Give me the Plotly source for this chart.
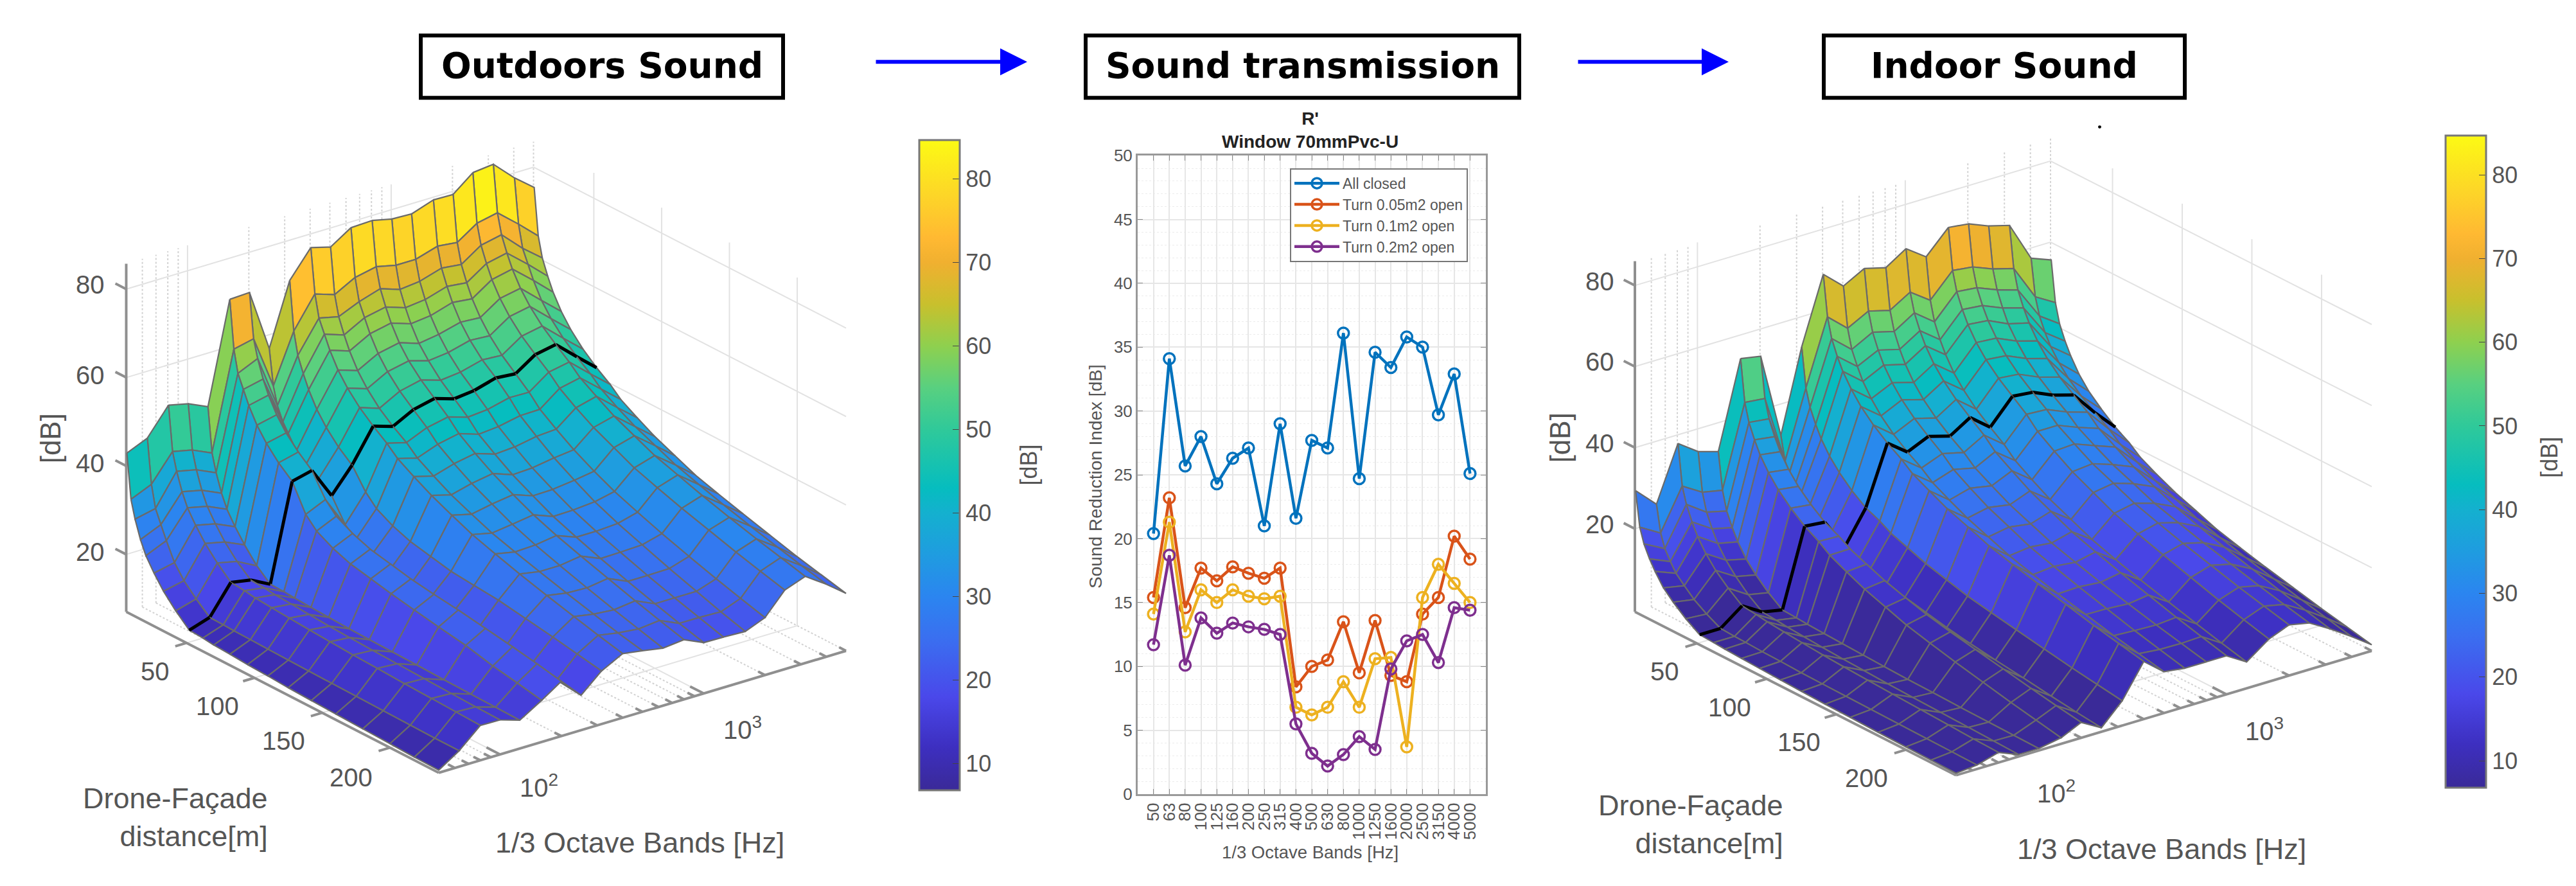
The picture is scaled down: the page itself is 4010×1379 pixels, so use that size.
"""Outdoor sound, window transmission and indoor sound, side by side.

The two level maps are drawn as shaded cells on a full-page 2D axis (an
orthographic view worked out below) rather than as WebGL scenes.
"""

import numpy as np
import plotly.graph_objects as go
from plotly.colors import sample_colorscale

W, H = 4010, 1379

BANDS = [50, 63, 80, 100, 125, 160, 200, 250, 315, 400, 500, 630, 800, 1000,
         1250, 1600, 2000, 2500, 3150, 4000, 5000]
MINOR_FREQS = [60, 70, 80, 90, 200, 300, 400, 500, 600, 700, 800, 900, 2000, 3000, 4000, 5000]
MAJOR_FREQS = [100, 1000]
DIST_TICKS = [50, 100, 150, 200]
DB_TICKS = [20, 40, 60, 80]
DISTANCES = [6, 9, 12, 16, 20, 26, 33, 42, 52, 62, 70, 82, 95, 110, 125, 142, 160, 180, 200, 218, 236]
BLACK_ROW = 8

OUTDOOR_DB = [
    [43, 45, 51, 50, 48, 70.8, 71, 57, 71, 77, 75.8, 78.8, 79, 78, 77.8, 79.5, 79.4, 83, 83.5, 79, 75.5],
    [33, 35, 41, 40, 38, 60, 61, 49, 60, 67, 65.5, 68, 69, 68, 68, 69.5, 69, 72, 73, 69, 65],
    [29, 30, 37, 36, 34, 55, 57, 45, 55, 62, 61, 63, 64.5, 63, 63.5, 65, 64.5, 67.5, 68.5, 64, 60.5],
    [25, 27, 33, 32, 30, 52, 53, 42, 51.5, 59, 57.5, 60, 61, 59.5, 60, 61.5, 61, 64, 65, 61, 57],
    [22, 24, 30, 29, 27, 49, 50, 40, 48.5, 56, 54.5, 57, 58, 56.5, 57, 58.5, 58, 61, 62, 58, 54],
    [19, 20, 27, 26, 24, 45.5, 46.5, 37, 45, 52.5, 51, 53.5, 54.5, 53, 53.7, 55, 54.7, 57.7, 58.6, 54.4, 50.6],
    [16, 17, 24, 23, 21, 42.5, 43.5, 35, 42, 49.5, 48, 50.5, 51.5, 50.2, 50.7, 52, 51.7, 54.7, 55.6, 51.4, 47.6],
    [13, 14.3, 21, 20, 17.7, 39.5, 40.6, 33, 39, 46.5, 45, 47.5, 48.6, 47.2, 47.7, 49, 48.7, 51.7, 52.6, 48.4, 44.6],
    [10.2, 11.7, 18.2, 17.4, 15.1, 36.9, 38, 31, 36.5, 43.9, 42.5, 44.9, 46, 44.6, 45.1, 46.5, 46.1, 49.1, 50, 45.8, 42],
    [10, 11.6, 17.9, 17.2, 15, 31, 33, 26, 32, 41.6, 40.4, 42.4, 43.4, 42, 42.4, 43.6, 43.5, 46.7, 47.6, 43.5, 39.8],
    [9.7, 11.5, 17.5, 16.9, 14.8, 28.5, 30.5, 24, 29.5, 39.4, 38.2, 39.9, 40.9, 39.4, 39.8, 40.8, 40.9, 44.3, 45.3, 41.3, 37.6],
    [9.5, 11.4, 17.2, 16.7, 14.6, 26.5, 28.5, 22.5, 27.5, 37.2, 36, 37.4, 38.3, 36.8, 37.1, 38, 38.3, 41.8, 43, 39, 35.4],
    [9.2, 11.3, 16.9, 16.4, 14.4, 25, 27, 21, 26, 35, 33.8, 35, 35.8, 34.2, 34.4, 35.2, 35.7, 39.4, 40.6, 36.8, 33.2],
    [9, 11.2, 16.6, 16.1, 14.2, 24, 26, 20, 25, 32.9, 31.8, 32.7, 33.4, 31.8, 31.9, 32.5, 33.2, 37.2, 38.5, 34.8, 31.2],
    [8.7, 11.1, 16.3, 15.9, 14.1, 23, 25, 19.5, 24, 30.9, 29.9, 30.5, 31.2, 29.5, 29.6, 30, 31, 35, 36.4, 32.8, 29.2],
    [8.5, 11, 16, 15.7, 14, 22, 24.2, 19, 23.5, 29.2, 28.3, 28.5, 29.2, 27.5, 27.5, 27.8, 29, 33.2, 34.7, 31.1, 27.6],
    [8.3, 10.9, 15.8, 15.5, 13.9, 21, 23.5, 18, 23, 27.5, 26.7, 26.7, 27.4, 25.5, 25.6, 25.8, 27, 31.4, 32.9, 29.4, 26],
    [8.1, 10.8, 15.5, 15.3, 13.7, 20, 22.5, 17, 22, 25.8, 25, 24.8, 25.5, 23.5, 23.5, 23.6, 25, 29.6, 31.1, 27.7, 24.3],
    [7.9, 10.7, 15.3, 15.1, 13.6, 18.5, 21.5, 16.5, 21, 24.2, 23.4, 23, 23.6, 21.6, 21.6, 21.6, 23.1, 27.8, 29.4, 26.1, 22.6],
    [7.7, 10.6, 15.1, 14.9, 13.5, 17.5, 20.5, 15.5, 20, 22.8, 22, 21.5, 22, 20, 20, 19.8, 21.5, 26.3, 28, 24.7, 21.3],
    [7.6, 10.6, 14.9, 14.8, 13.4, 16.4, 19.4, 14.9, 19, 21.5, 20.8, 20, 20.5, 18.5, 18.4, 18.2, 20, 24.9, 26.6, 23.4, 20],
]

INDOOR_DB = [
    [29.5, 24.6, 38, 34.5, 33, 54.3, 53.4, 32.4, 52.7, 69, 64.6, 67.4, 66, 69.2, 65.7, 71.3, 70.7, 68.7, 67.3, 57.6, 55.7],
    [21, 18, 28, 25, 24, 44, 43.5, 26.5, 43, 59, 54.7, 57.4, 56, 59, 55.5, 61.2, 60.6, 58.6, 57.2, 48.6, 45.7],
    [17.4, 14.7, 24, 20.6, 19.4, 39.6, 39, 24, 38.8, 54.2, 50, 52.7, 51.3, 54.4, 50.7, 56.5, 56, 54, 52.4, 44.4, 41],
    [14.4, 12.2, 20.4, 17.2, 16, 36, 35.3, 21.7, 35.3, 50.5, 46.5, 49, 47.6, 50.7, 47, 52.8, 52.3, 50.2, 48.7, 41, 37.4],
    [12, 10, 17.5, 14.3, 13.2, 33, 32.3, 20, 32.4, 47.5, 43.5, 46, 44.6, 47.7, 44, 49.8, 49.3, 47, 45.7, 38.3, 34.5],
    [9, 8, 14.3, 11.2, 10, 29.7, 29, 18, 29.2, 44.2, 40.3, 42.7, 41.2, 44.3, 40.5, 46.4, 46, 43.8, 42.3, 35.3, 31],
    [6.7, 5.8, 11.4, 8.4, 7.3, 26.7, 26, 16.3, 26.4, 41.1, 37.3, 39.7, 38.2, 41.3, 37.5, 43.4, 42.9, 40.7, 39.2, 32.6, 28],
    [4.2, 3.8, 8.6, 5.5, 4.5, 23.7, 23.1, 14.6, 23.5, 38.1, 34.3, 36.7, 35.2, 38.3, 34.4, 40.4, 39.9, 37.7, 36.2, 29.9, 25.2],
    [2, 2, 6, 3, 2, 21, 20.5, 13, 21, 35.4, 31.7, 34, 32.5, 35.6, 31.7, 37.7, 37.2, 35, 33.5, 27.5, 22.5],
    [1.8, 1.8, 5.6, 2.7, 1.8, 19, 18.8, 11.8, 19.5, 33.2, 29.5, 31.5, 30.2, 33, 29.2, 35, 34.7, 32.6, 31, 25.2, 20.4],
    [1.6, 1.7, 5.2, 2.4, 1.6, 17, 17.1, 10.5, 17.9, 31, 27.3, 29, 27.8, 30.3, 26.6, 32.2, 32.2, 30.2, 28.4, 22.9, 18.2],
    [1.4, 1.5, 4.8, 2.1, 1.4, 15, 15.4, 9.2, 16.4, 28.9, 25.1, 26.5, 25.5, 27.7, 24, 29.4, 29.7, 27.8, 25.9, 20.6, 16],
    [1.2, 1.4, 4.4, 1.8, 1.2, 13, 13.6, 8, 14.8, 26.7, 22.9, 24, 23.1, 25, 21.4, 26.6, 27.1, 25.4, 23.3, 18.3, 13.9],
    [1, 1.2, 4, 1.5, 1, 11.2, 12, 6.9, 13.4, 24.8, 20.9, 21.8, 21, 22.6, 19.1, 24.1, 24.9, 23.3, 21, 16.3, 12],
    [.8, 1.1, 3.7, 1.3, .8, 9.4, 10.5, 5.8, 12, 22.8, 18.9, 19.5, 18.9, 20.2, 16.8, 21.6, 22.6, 21.1, 18.7, 14.2, 10],
    [.6, 1, 3.4, 1, .6, 7.9, 9.2, 4.8, 10.9, 21.2, 17.2, 17.7, 17.1, 18.2, 14.8, 19.5, 20.7, 19.3, 16.8, 12.4, 8.4],
    [.5, .9, 3.1, .8, .5, 6.4, 8, 3.9, 9.8, 19.6, 15.6, 15.8, 15.3, 16.2, 12.9, 17.5, 18.8, 17.5, 14.9, 10.7, 6.8],
    [.3, .8, 2.8, .6, .3, 4.9, 6.7, 3, 8.6, 18, 14, 13.9, 13.5, 14.2, 11, 15.4, 16.9, 15.7, 13, 9, 5.2],
    [.2, .7, 2.5, .4, .2, 3.4, 5.4, 2, 7.4, 16.3, 12.3, 12, 11.8, 12.2, 9.1, 13.3, 15, 13.9, 11.1, 7.3, 3.6],
    [.1, .6, 2.2, .2, .1, 2.2, 4.3, 1.2, 6.5, 15, 11, 10.5, 10.4, 10.6, 7.5, 11.6, 13.5, 12.4, 9.5, 5.9, 2.3],
    [0, .5, 2, 0, 0, 1, 3.3, .5, 5.6, 13.7, 9.7, 9, 9, 9, 6, 10, 12, 11, 8, 4.5, 1],
]

ALL_CLOSED = [20.4, 34.1, 25.7, 28, 24.3, 26.3, 27.1, 21, 29, 21.6, 27.7, 27.1, 36.1, 24.7, 34.6, 33.4, 35.8, 35, 29.7, 32.9, 25.1]
TURN_005 = [15.4, 23.2, 14.6, 17.7, 16.7, 17.8, 17.3, 16.9, 17.7, 8.4, 10, 10.5, 13.5, 9.5, 13.6, 9.3, 8.8, 14.1, 15.4, 20.2, 18.4]
TURN_01 = [14.1, 21.3, 12.7, 16, 15, 16, 15.5, 15.3, 15.5, 6.8, 6.2, 6.8, 8.8, 6.8, 10.6, 10.7, 3.7, 15.4, 18, 16.5, 15]
TURN_02 = [11.7, 18.7, 10.1, 13.8, 12.6, 13.4, 13.1, 12.9, 12.5, 5.5, 3.2, 2.2, 3.1, 4.5, 3.5, 9.8, 12, 12.5, 10.3, 14.6, 14.4]

CMIN, CMAX = 6.8, 84.7
COLOR_STOPS = [(6.8, "#3a2a98"), (12, "#3d2fc0"), (18, "#4a48ea"), (25, "#3a6ff0"),
               (30, "#2b85f0"), (35, "#1f9ce0"), (40, "#14b0cf"), (43, "#06bdbf"),
               (50, "#2fc99a"), (55, "#58d080"), (60, "#8ed04f"), (65, "#c8c02d"),
               (70, "#f0b030"), (73, "#ffb932"), (78, "#fdd528"), (84.7, "#fcfa14")]
PARULA = [[(v - CMIN) / (CMAX - CMIN), c] for v, c in COLOR_STOPS]

GREY = "#555555"
MESH = "#6a6a6a"
AXIS_LINE = "#8f8f8f"
FONT = "Liberation Sans"
F_MIN, F_MAX = 50, 5000
D_MIN, D_MAX = 5.5, 236


def px_x(x):
    return x / W


def px_y(y):
    return 1 - y / H


def make_view(corner, x_vec, d_vec, z_vec, z_range):
    """Orthographic view: returns (freq, distance, dB) -> page pixel."""
    def view(freq, dist, db):
        t = np.log10(freq / F_MIN) / np.log10(F_MAX / F_MIN)
        u = (dist - D_MIN) / (D_MAX - D_MIN)
        v = (db - z_range[0]) / (z_range[1] - z_range[0])
        return (corner[0] + t * x_vec[0] + u * d_vec[0] + v * z_vec[0],
                corner[1] + t * x_vec[1] + u * d_vec[1] + v * z_vec[1])
    return view


def page_line(xs, ys, color, width, dash="solid"):
    return go.Scatter(x=xs, y=ys, xaxis="x2", yaxis="y2", mode="lines", showlegend=False,
                      line=dict(color=color, width=width, dash=dash), hoverinfo="skip")


def segments(view, pairs):
    xs, ys = [], []
    for a, b in pairs:
        p, q = view(*a), view(*b)
        xs += [p[0], q[0], None]
        ys += [p[1], q[1], None]
    return xs, ys


def add_box(fig, view, z_range):
    z0, z1 = z_range
    major = []
    minor = []
    for db in DB_TICKS:
        major.append(((F_MIN, D_MIN, db), (F_MAX, D_MIN, db)))
        major.append(((F_MAX, D_MIN, db), (F_MAX, D_MAX, db)))
    for f in MAJOR_FREQS:
        major.append(((f, D_MIN, z0), (f, D_MIN, z1)))
        major.append(((f, D_MIN, z0), (f, D_MAX, z0)))
    for d in DIST_TICKS:
        major.append(((F_MAX, d, z0), (F_MAX, d, z1)))
        major.append(((F_MIN, d, z0), (F_MAX, d, z0)))
    for f in MINOR_FREQS:
        minor.append(((f, D_MIN, z0), (f, D_MIN, z1)))
        minor.append(((f, D_MIN, z0), (f, D_MAX, z0)))
    fig.add_trace(page_line(*segments(view, minor), "#d2d2d2", 2, "dot"))
    fig.add_trace(page_line(*segments(view, major), "#e2e2e2", 2))

    edges = [((F_MIN, D_MIN, z0), (F_MIN, D_MIN, z1)),
             ((F_MIN, D_MIN, z0), (F_MIN, D_MAX, z0)),
             ((F_MIN, D_MAX, z0), (F_MAX, D_MAX, z0))]
    for db in DB_TICKS:
        edges.append(((F_MIN, D_MIN, db), (F_MIN, D_MIN - 8, db)))
    for d in DIST_TICKS:
        edges.append(((F_MIN, d, z0), (F_MIN * 0.88, d, z0)))
    for f in MAJOR_FREQS:
        edges.append(((f, D_MAX, z0), (f, D_MAX - 10, z0)))
    for f in MINOR_FREQS:
        edges.append(((f, D_MAX, z0), (f, D_MAX - 5, z0)))
    fig.add_trace(page_line(*segments(view, edges), AXIS_LINE, 4))


def add_surface(fig, view, z_rows):
    """Back-to-front cells, coloured from their far edge, black row on top of its cells."""
    for r in range(len(DISTANCES) - 1):
        for c in range(len(BANDS) - 2, -1, -1):
            corners = [(c, r), (c + 1, r), (c + 1, r + 1), (c, r + 1), (c, r)]
            pts = [view(BANDS[j], DISTANCES[i], z_rows[i][j]) for j, i in corners]
            level = (z_rows[r][c] + z_rows[r][c + 1]) / 2
            t = float(min(max((level - CMIN) / (CMAX - CMIN), 0), 1))
            fig.add_trace(go.Scatter(
                x=[p[0] for p in pts], y=[p[1] for p in pts], xaxis="x2", yaxis="y2",
                mode="lines", fill="toself", fillcolor=sample_colorscale(PARULA, [t])[0],
                line=dict(color=MESH, width=2.2), showlegend=False, hoverinfo="skip",
            ))
            if r == BLACK_ROW:
                xs, ys = zip(*[view(BANDS[j], DISTANCES[r], z_rows[r][j]) for j in (c, c + 1)])
                fig.add_trace(page_line(list(xs), list(ys), "black", 5))


def add_colorbar(fig, bar_left, bar_top, bar_bottom):
    fig.add_trace(go.Scatter(
        x=[-100], y=[-100], xaxis="x2", yaxis="y2", mode="markers", showlegend=False,
        hoverinfo="skip",
        marker=dict(
            color=[CMIN], cmin=CMIN, cmax=CMAX, colorscale=PARULA, showscale=True,
            colorbar=dict(
                x=px_x(bar_left), xanchor="left", xpad=0,
                y=px_y(bar_top), yanchor="top", ypad=0,
                len=bar_bottom - bar_top, lenmode="pixels",
                thickness=63, thicknessmode="pixels",
                tickvals=list(range(10, 90, 10)), ticks="inside", ticklen=12, tickcolor="#444",
                tickfont=dict(family=FONT, size=36, color=GREY),
                outlinecolor="#777", outlinewidth=3,
            ),
        ),
    ))


def add_text(text, x, y, size, angle=0, align="center", bold=False, color=GREY, family=FONT):
    if bold:
        text = f"<b>{text}</b>"
    fig.add_annotation(text=text, x=px_x(x), y=px_y(y), xref="paper", yref="paper",
                       xanchor="center", yanchor="middle",
                       showarrow=False, textangle=angle, align=align,
                       font=dict(family=family, size=size, color=color))


def add_title_box(text, x0, x1):
    fig.add_shape(type="rect", xref="paper", yref="paper",
                  x0=px_x(x0), x1=px_x(x1), y0=px_y(132), y1=px_y(33),
                  line=dict(color="black", width=6), fillcolor="white")
    add_text(text, (x0 + x1) / 2, 81, 55, bold=True, color="black", family="DejaVu Sans")


def add_arrow(x0, x1):
    fig.add_annotation(x=px_x(x1), y=px_y(75), ax=x0 - x1, ay=0,
                       xref="paper", yref="paper", axref="pixel", ayref="pixel",
                       text="", showarrow=True, arrowhead=2, arrowsize=1.4,
                       arrowwidth=6, arrowcolor="#0000ff")


fig = go.Figure()

# left panel
OUT_RANGE = (7, 85.75)
out_view = make_view((188.5, 950), (634, -194), (486.5, 256), (0, -554), OUT_RANGE)
add_box(fig, out_view, OUT_RANGE)
add_surface(fig, out_view, OUTDOOR_DB)
add_colorbar(fig, 1423, 199, 1211)

# right panel
IN_RANGE = (-0.5, 86)
in_view = make_view((2537, 950), (647, -198), (500, 260), (0, -558), IN_RANGE)
add_box(fig, in_view, IN_RANGE)
add_surface(fig, in_view, INDOOR_DB)
add_colorbar(fig, 3799, 192, 1207)

# middle panel
for name, vals, clr in [("All closed", ALL_CLOSED, "#0072BD"),
                        ("Turn 0.05m2 open", TURN_005, "#D95319"),
                        ("Turn 0.1m2 open", TURN_01, "#EDB120"),
                        ("Turn 0.2m2 open", TURN_02, "#7E2F8E")]:
    fig.add_trace(go.Scatter(
        x=list(range(len(BANDS))), y=vals, name=name, mode="lines+markers",
        line=dict(color=clr, width=4.5), hoverinfo="skip",
        marker=dict(symbol="circle-open", size=17, color=clr, line=dict(width=3.5, color=clr)),
    ))

add_title_box("Outdoors Sound", 647, 1211)
add_title_box("Sound transmission", 1682, 2357)
add_title_box("Indoor Sound", 2831, 3393)
add_arrow(1354, 1591)
add_arrow(2447, 2683)

for label, y in zip(DB_TICKS, [855, 714, 573, 429]):
    add_text(str(label), 132, y, 40)
for label, (x, y) in zip(DIST_TICKS, [(233, 1045), (330, 1100), (433, 1155), (538, 1213)]):
    add_text(str(label), x, y, 40)
add_text("10<sup>2</sup>", 831, 1227, 40)
add_text("10<sup>3</sup>", 1148, 1135, 40)
add_text("[dB]", 70, 674, 44, angle=-90)
add_text("Drone-Façade<br>distance[m]", 265, 1277, 45, align="right")
add_text("1/3 Octave Bands [Hz]", 988, 1317, 45)
add_text("[dB]", 1593, 716, 36, angle=-90)

for label, y in zip(DB_TICKS, [811, 682, 552, 424]):
    add_text(str(label), 2482, y, 40)
for label, (x, y) in zip(DIST_TICKS, [(2583, 1045), (2684, 1102), (2792, 1157), (2897, 1214)]):
    add_text(str(label), x, y, 40)
add_text("10<sup>2</sup>", 3193, 1236, 40)
add_text("10<sup>3</sup>", 3517, 1137, 40)
add_text("[dB]", 2420, 673, 44, angle=-90)
add_text("Drone-Façade<br>distance[m]", 2624, 1288, 45, align="right")
add_text("1/3 Octave Bands [Hz]", 3357, 1327, 45)
add_text("[dB]", 3961, 704, 36, angle=-90)

add_text("R'<br>Window 70mmPvc-U", 2031, 184, 28, bold=True, color="#222")
add_text("Sound Reduction Index [dB]", 1697, 735, 28, angle=-90)
add_text("1/3 Octave Bands [Hz]", 2032, 1332, 27.5)

fig.add_shape(type="circle", xref="paper", yref="paper", fillcolor="black", line=dict(width=0),
              x0=px_x(3258), x1=px_x(3263), y0=px_y(181), y1=px_y(176))

fig.update_layout(
    width=W, height=H, margin=dict(l=0, r=0, t=0, b=0),
    paper_bgcolor="white", plot_bgcolor="rgba(0,0,0,0)",
    font=dict(family=FONT, color=GREY),
    xaxis=dict(domain=[px_x(1763), px_x(2305)], range=[-1, 21], tickmode="array",
               tickvals=list(range(len(BANDS))), ticktext=[str(b) for b in BANDS],
               tickangle=-90, tickfont=dict(size=26, color=GREY), ticks="inside",
               ticklen=8, tickcolor="#888", showgrid=True, gridcolor="#e6e6e6", gridwidth=2,
               showline=True, mirror="ticks", linecolor="#999", linewidth=3, zeroline=False),
    yaxis=dict(domain=[px_y(1240), px_y(224)], range=[0, 50], dtick=5,
               tickfont=dict(size=26, color=GREY), ticks="inside", ticklen=8, tickcolor="#888",
               showgrid=True, gridcolor="#e6e6e6", gridwidth=2,
               minor=dict(dtick=1, showgrid=True, gridcolor="#ececec", gridwidth=1, griddash="dot"),
               showline=True, mirror="ticks", linecolor="#999", linewidth=3, zeroline=False),
    xaxis2=dict(domain=[0, 1], range=[0, W], visible=False, fixedrange=True, anchor="y2"),
    yaxis2=dict(domain=[0, 1], range=[H, 0], visible=False, fixedrange=True, anchor="x2"),
    legend=dict(x=px_x(2000), xanchor="left", y=px_y(244), yanchor="top",
                bgcolor="white", bordercolor="#777", borderwidth=2,
                font=dict(family=FONT, size=23, color=GREY), itemwidth=70),
)

fig.write_html("out.html")
